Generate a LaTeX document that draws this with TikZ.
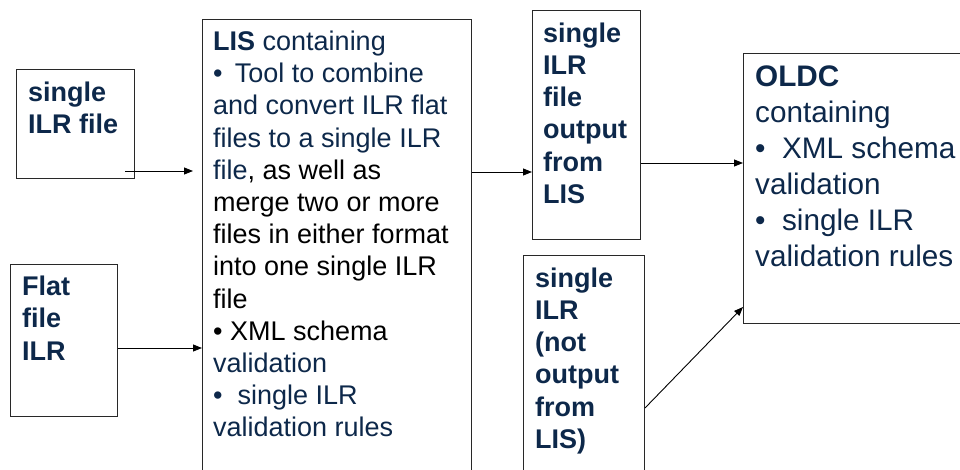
\documentclass[tikz,border=0pt]{standalone}
\usepackage{fontspec}
\setmainfont{Liberation Sans}
\usetikzlibrary{arrows.meta}
\definecolor{navy}{RGB}{13,40,74}
\definecolor{edge}{RGB}{40,40,40}
\tikzset{
  box/.style={draw=edge, line width=1pt, fill=none, rectangle, inner sep=0pt, anchor=north west},
  txt/.style={anchor=base west, inner sep=0pt, align=left, text=navy},
  small/.style={font=\fontsize{27}{32.2}\selectfont},
  bsmall/.style={font=\fontsize{27}{32.2}\selectfont\bfseries},
  big/.style={font=\fontsize{29.7}{36}\selectfont},
  arr/.style={draw=black, line width=0.9pt, -{Triangle[length=9pt,width=7pt]}}
}
\begin{document}
\begin{tikzpicture}[x=1pt,y=-1pt]
\useasboundingbox (0,0) rectangle (960,470);
\clip (0,0) rectangle (960,470);
% boxes
\node[box, minimum width=118pt, minimum height=109pt] (b1) at (16,69) {};
\node[box, minimum width=107pt, minimum height=152pt] (b2) at (10,264) {};
\node[box, minimum width=269pt, minimum height=470pt] (lis) at (202,19) {};
\node[box, minimum width=108pt, minimum height=229pt] (b4) at (532,10) {};
\node[box, minimum width=121pt, minimum height=230pt] (b5) at (523,255) {};
\node[box, minimum width=240pt, minimum height=270pt] (oldc) at (743,53) {};
% texts (anchor = baseline of last line)
\node[txt, bsmall] (t1) at (28,133.4) {single\\ILR file};
\node[txt, bsmall] (t2) at (22,360) {Flat\\file\\ILR};
\node[txt, small] (t3) at (213,436.8) {\textbf{LIS} containing\\
\textbullet\hspace{0.45em}Tool to combine\\
and convert ILR flat\\
files to a single ILR\\
file\textcolor{black}{, as well as}\\
\textcolor{black}{merge two or more}\\
\textcolor{black}{files in either format}\\
\textcolor{black}{into one single ILR}\\
\textcolor{black}{file}\\
\textcolor{black}{\textbullet\ XML schema}\\
validation\\
\textbullet\ \ single ILR\\
validation rules};
\node[txt, bsmall] (t4) at (543,203.3) {single\\ILR\\file\\output\\from\\LIS};
\node[txt, bsmall] (t5) at (535,448.2) {single\\ILR\\(not\\output\\from\\LIS)};
\node[txt, big] (t6) at (755,266.7) {\textbf{OLDC}\\containing\\\textbullet\ \ XML schema\\validation\\\textbullet\ \ single ILR\\validation rules};
% connectors
\coordinate (a1s) at (125,171);
\draw[arr, shorten >=9pt] (a1s) -- (lis.west |- a1s);
\coordinate (a2) at (0,348);
\draw[arr] (b2.east |- a2) -- (lis.west |- a2);
\coordinate (a3) at (0,172);
\draw[arr] (lis.east |- a3) -- (b4.west |- a3);
\coordinate (a4) at (0,163);
\draw[arr] (b4.east |- a4) -- (oldc.west |- a4);
\coordinate (a5s) at (0,408);
\coordinate (a5e) at (0,307);
\draw[arr] (b5.east |- a5s) -- (oldc.west |- a5e);
\end{tikzpicture}
\end{document}
